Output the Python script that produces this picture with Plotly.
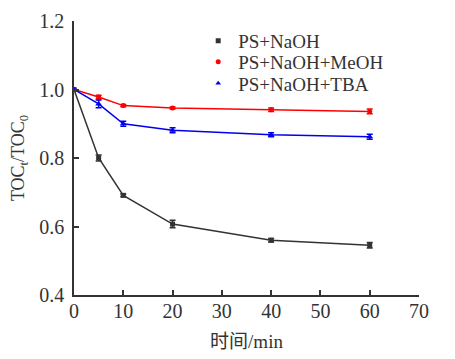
import plotly.graph_objects as go

time = [0, 5, 10, 20, 40, 60]
ps_naoh = [1.0, 0.800, 0.691, 0.607, 0.560, 0.545]
ps_naoh_err = [0.0, 0.009, 0.004, 0.011, 0.005, 0.008]
ps_naoh_meoh = [1.0, 0.978, 0.953, 0.946, 0.941, 0.936]
ps_naoh_meoh_err = [0.0, 0.005, 0.003, 0.003, 0.005, 0.007]
ps_naoh_tba = [1.0, 0.958, 0.900, 0.881, 0.868, 0.862]
ps_naoh_tba_err = [0.0, 0.011, 0.007, 0.007, 0.006, 0.007]

names = ["PS+NaOH", "PS+NaOH+MeOH", "PS+NaOH+TBA"]
colors = ["#333333", "#ff0000", "#0000ee"]
symbols = ["square", "circle", "triangle-up"]
sizes = [5, 5, 6]
series = [(ps_naoh, ps_naoh_err), (ps_naoh_meoh, ps_naoh_meoh_err), (ps_naoh_tba, ps_naoh_tba_err)]
legend_ids = ["legend", "legend2", "legend3"]
legend_y = [0.997, 0.92, 0.842]

FONT = "Liberation Serif, Times New Roman, Noto Sans CJK SC, serif"

fig = go.Figure()
for name, col, sym, sz, (vals, err) in zip(names, colors, symbols, sizes, series):
    fig.add_trace(go.Scatter(
        x=time, y=vals, mode="lines+markers", name=name, showlegend=False,
        line=dict(color=col, width=1.5),
        marker=dict(symbol=sym, size=sz, color=col),
        error_y=dict(type="data", array=err, visible=True, color=col, thickness=1.5, width=3),
    ))
for name, col, sym, lid in zip(names, colors, symbols, legend_ids):
    fig.add_trace(go.Scatter(
        x=[None], y=[None], mode="markers", name=name, legend=lid,
        marker=dict(symbol=sym, size=5, color=col),
    ))

legend_common = dict(x=0.36, xanchor="left", yanchor="top", bgcolor="rgba(0,0,0,0)",
                     font=dict(size=19, family=FONT, color="#333333"), itemwidth=30)

fig.update_layout(
    width=447, height=351,
    margin=dict(l=66, r=36, t=13, b=64),
    paper_bgcolor="white", plot_bgcolor="white",
    font=dict(family=FONT, size=20, color="#333333"),
    showlegend=True,
    legend=dict(y=legend_y[0], **legend_common),
    legend2=dict(y=legend_y[1], **legend_common),
    legend3=dict(y=legend_y[2], **legend_common),
    xaxis=dict(range=[0, 70], tickvals=[0, 10, 20, 30, 40, 50, 60, 70],
               showline=True, linecolor="#333333", linewidth=1.5,
               ticks="inside", ticklen=5, tickcolor="#333333", tickwidth=1.5,
               showgrid=False, zeroline=False, automargin=False, ticklabelstandoff=-3,
               title=dict(text="时间/min", font=dict(size=19, family=FONT), standoff=14)),
    yaxis=dict(range=[0.4, 1.2], tickvals=[0.4, 0.6, 0.8, 1.0, 1.2],
               ticktext=["0.4", "0.6", "0.8", "1.0", "1.2"],
               showline=True, linecolor="#333333", linewidth=1.5,
               ticks="inside", ticklen=5, tickcolor="#333333", tickwidth=1.5,
               showgrid=False, zeroline=False, ticklabelstandoff=4, automargin=False,
               title=dict(text="TOC<sub>t</sub>/TOC<sub>0</sub>", font=dict(size=18, family=FONT), standoff=10)),
)

fig.write_html("out.html")
